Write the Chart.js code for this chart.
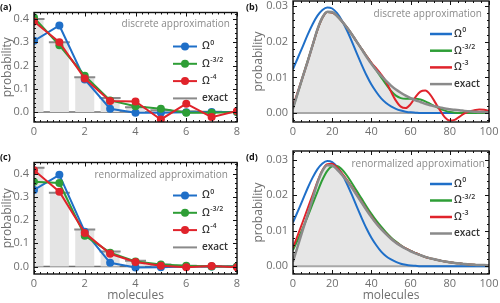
<!DOCTYPE html>
<html>
<head>
<meta charset="utf-8">
<script src="https://cdn.jsdelivr.net/npm/chart.js@4.4.1/dist/chart.umd.min.js"></script>
<style>
  html, body { margin: 0; padding: 0; background: #fff; }
  #wrap { position: relative; width: 500px; height: 303px; overflow: hidden; }
  canvas { position: absolute; }
</style>
</head>
<body>
<div id="wrap">
  <canvas id="chartA" width="250" height="150" style="left:0;top:0"></canvas>
  <canvas id="chartB" width="255" height="150" style="left:245px;top:0"></canvas>
  <canvas id="chartC" width="250" height="153" style="left:0;top:150px"></canvas>
  <canvas id="chartD" width="255" height="153" style="left:245px;top:150px"></canvas>
</div>
<script>
// discrete panels (a), (c)
const MOLECULES = [0, 1, 2, 3, 4, 5, 6, 7, 8];
const EXACT_A   = [0.400, 0.300, 0.150, 0.060, 0.020, 0.008, 0.003, 0.001, 0.000];
const OMEGA0_A  = [0.306, 0.372, 0.140, 0.014, -0.003, -0.003, -0.001, 0.000, 0.000];
const OMEGA32_A = [0.406, 0.287, 0.156, 0.050, 0.025, 0.014, -0.003, -0.003, 0.000];
const OMEGA4_A  = [0.389, 0.300, 0.144, 0.047, 0.045, -0.032, 0.036, -0.022, 0.004];
const EXACT_C   = [0.425, 0.318, 0.160, 0.065, 0.025, 0.009, 0.003, 0.001, 0.000];
const OMEGA0_C  = [0.330, 0.395, 0.150, 0.016, -0.004, -0.003, 0.000, 0.000, 0.000];
const OMEGA32_C = [0.365, 0.360, 0.133, 0.060, 0.022, 0.009, 0.003, 0.000, 0.000];
const OMEGA4_C  = [0.415, 0.322, 0.145, 0.055, 0.020, 0.004, -0.003, 0.002, -0.003];

// continuous panels (b), (d)
const XS = [0, 2.5, 5, 7.5, 10, 12.5, 15, 17.5, 20, 22.5, 25, 27.5, 30, 32.5, 35, 37.5, 40, 42.5, 45, 47.5,
            50, 52.5, 55, 57.5, 60, 62.5, 65, 67.5, 70, 72.5, 75, 77.5, 80, 82.5, 85, 87.5, 90, 92.5, 95, 97.5, 100];
const EXACT_CONT = [0.0013, 0.0058, 0.0102, 0.0145, 0.0190, 0.0235, 0.0268, 0.0284, 0.0283, 0.0272, 0.0257, 0.0240, 0.0221, 0.0200, 0.0179, 0.0158, 0.0138, 0.0120, 0.0104, 0.0090,
                    0.0077, 0.0066, 0.0057, 0.0049, 0.0042, 0.0036, 0.0031, 0.0026, 0.0022, 0.0019, 0.0016, 0.0013, 0.0011, 0.0009, 0.0008, 0.0006, 0.0005, 0.0004, 0.0003, 0.0003, 0.0002];
const OMEGA0_CONT = [0.0123, 0.0155, 0.0187, 0.0220, 0.0249, 0.0273, 0.0289, 0.0296, 0.0293, 0.0280, 0.0259, 0.0232, 0.0201, 0.0168, 0.0136, 0.0106, 0.0080, 0.0059, 0.0041, 0.0028,
                     0.0019, 0.0012, 0.0007, 0.0004, 0.0002, 0.0001, 0, 0, 0, 0, 0, 0, 0, 0, 0, 0, 0, 0, 0, 0, 0];
const OMEGA32_B = [0.0015, 0.0058, 0.0102, 0.0146, 0.0190, 0.0234, 0.0267, 0.0283, 0.0282, 0.0272, 0.0257, 0.0240, 0.0221, 0.0200, 0.0180, 0.0160, 0.0140, 0.0120, 0.0100, 0.0080,
                   0.0062, 0.0049, 0.0042, 0.0040, 0.0040, 0.0040, 0.0038, 0.0033, 0.0026, 0.0019, 0.0012, 0.0007, 0.0003, 0.0001, 0, 0, 0, 0, 0, 0, 0];
const OMEGA3_B  = [0.0020, 0.0060, 0.0102, 0.0145, 0.0190, 0.0234, 0.0267, 0.0283, 0.0282, 0.0272, 0.0257, 0.0240, 0.0221, 0.0200, 0.0180, 0.0160, 0.0141, 0.0125, 0.0108, 0.0088,
                   0.0060, 0.0035, 0.0018, 0.0014, 0.0025, 0.0045, 0.0060, 0.0063, 0.0052, 0.0030, 0.0008, -0.0012, -0.0021, -0.0019, -0.0010, -0.0001, 0.0005, 0.0008, 0.0010, 0.0009, 0.0006];
const OMEGA32_D = [0.0045, 0.0075, 0.0107, 0.0140, 0.0175, 0.0210, 0.0243, 0.0268, 0.0281, 0.0282, 0.0272, 0.0255, 0.0234, 0.0212, 0.0190, 0.0168, 0.0147, 0.0128, 0.0111, 0.0095,
                   0.0081, 0.0069, 0.0059, 0.0050, 0.0043, 0.0037, 0.0031, 0.0026, 0.0022, 0.0019, 0.0016, 0.0013, 0.0011, 0.0009, 0.0008, 0.0006, 0.0005, 0.0004, 0.0003, 0.0003, 0.0002];
const OMEGA3_D  = [0.0052, 0.0088, 0.0125, 0.0163, 0.0200, 0.0238, 0.0270, 0.0287, 0.0288, 0.0277, 0.0261, 0.0243, 0.0223, 0.0202, 0.0181, 0.0160, 0.0140, 0.0121, 0.0105, 0.0091,
                   0.0078, 0.0067, 0.0058, 0.0050, 0.0043, 0.0037, 0.0031, 0.0026, 0.0022, 0.0019, 0.0016, 0.0013, 0.0011, 0.0009, 0.0008, 0.0006, 0.0005, 0.0004, 0.0003, 0.0003, 0.0002];

// ticks and labels
const X_TICKS_DISC = [0, 2, 4, 6, 8];
const Y_TICKS_DISC = [0, 0.1, 0.2, 0.3, 0.4];
const X_TICKS_CONT = [0, 20, 40, 60, 80, 100];
const Y_TICKS_CONT = [0, 0.01, 0.02, 0.03];
const LABELS_DISC = ['Ω^0', 'Ω^-3/2', 'Ω^-4', 'exact'];
const LABELS_CONT = ['Ω^0', 'Ω^-3/2', 'Ω^-3', 'exact'];

const BLUE = '#1f6fc8', GREEN = '#2e9e36', RED = '#e0232b', GREY = '#8a8a8a';
const BAR = '#e4e4e4', FILL = '#e6e6e6';
const FONT = '"Open Sans", "DejaVu Sans", sans-serif';
const TICK_COL = '#6f6f6f';

const pts = (xs, ys) => xs.map((x, i) => ({ x, y: ys[i] }));

// frame, inward ticks, note text, legend and panel tag
const decoPlugin = {
    id: 'deco',
    beforeDatasetsDraw(chart, args, o) {
        const { ctx, chartArea: a, scales: { y } } = chart;
        const y0 = y.getPixelForValue(0);
        ctx.save();
        ctx.strokeStyle = o.zeroColor;
        ctx.lineWidth = o.zeroWidth;
        ctx.beginPath(); ctx.moveTo(a.left, y0); ctx.lineTo(a.right, y0); ctx.stroke();
        ctx.restore();
    },
    afterDraw(chart, args, o) {
        const { ctx, chartArea: a, scales: { x, y } } = chart;
        ctx.save();
        // ticks
        ctx.strokeStyle = '#111';
        ctx.lineWidth = 1;
        ctx.beginPath();
        for (let v = x.min; v <= x.max + 1e-9; v += o.xMinor) {
            const px = Math.round(x.getPixelForValue(v)) + 0.5;
            const len = o.xTicks.some(t => Math.abs(t - v) < 1e-6) ? 4 : 2;
            ctx.moveTo(px, a.bottom); ctx.lineTo(px, a.bottom - len);
            ctx.moveTo(px, a.top); ctx.lineTo(px, a.top + len);
        }
        for (let v = Math.ceil(y.min / o.yMinor) * o.yMinor; v <= y.max + 1e-9; v += o.yMinor) {
            const py = Math.round(y.getPixelForValue(v)) + 0.5;
            const len = o.yTicks.some(t => Math.abs(t - v) < 1e-6) ? 4 : 2;
            ctx.moveTo(a.left, py); ctx.lineTo(a.left + len, py);
            ctx.moveTo(a.right, py); ctx.lineTo(a.right - len, py);
        }
        ctx.stroke();
        // frame
        ctx.lineWidth = 1.4;
        ctx.strokeRect(a.left, a.top, a.right - a.left, a.bottom - a.top);

        // note
        ctx.fillStyle = '#8a8a8a';
        ctx.font = `10px ${FONT}`;
        ctx.textAlign = 'right';
        ctx.textBaseline = 'middle';
        ctx.fillText(o.note, a.right - o.noteR, a.top + o.noteY);

        // legend
        o.items.forEach((it, i) => {
            const yy = a.top + o.legTop + i * o.legGap;
            const x0 = a.right - o.legX0, x1 = a.right - o.legX1;
            ctx.strokeStyle = it.color;
            ctx.lineWidth = o.legLine;
            ctx.beginPath(); ctx.moveTo(x0, yy); ctx.lineTo(x1, yy); ctx.stroke();
            if (it.marker) {
                ctx.fillStyle = it.color;
                ctx.beginPath(); ctx.arc((x0 + x1) / 2, yy, 4, 0, Math.PI * 2); ctx.fill();
            }
            const [base, sup] = it.label.split('^');
            const tx = a.right - o.legTx;
            ctx.fillStyle = '#333';
            ctx.textAlign = 'left';
            ctx.font = `600 10px ${FONT}`;
            ctx.fillText(base, tx, yy);
            if (sup) {
                const w = ctx.measureText(base).width;
                ctx.font = `600 7px ${FONT}`;
                ctx.fillText(sup, tx + w + 0.5, yy - 4);
            }
        });

        // panel tag
        ctx.fillStyle = '#111';
        ctx.font = `bold 9px ${FONT}`;
        ctx.textAlign = 'left';
        ctx.fillText(o.tag, o.tagX, 7);
        ctx.restore();
    }
};

function scales(o) {
    return {
        x: {
            type: 'linear', min: o.xmin, max: o.xmax, offset: false,
            afterBuildTicks: s => { s.ticks = o.xticks.map(v => ({ value: v })); },
            afterFit: s => { s.height = o.xh; s.paddingLeft = 0; s.paddingRight = 0; },
            ticks: { color: TICK_COL, font: { family: FONT, size: 11 }, padding: 3, maxRotation: 0, autoSkip: false, callback: v => String(v) },
            grid: { display: false, drawTicks: false },
            border: { display: false },
            title: { display: !!o.xtitle, text: o.xtitle || '', color: TICK_COL, font: { family: FONT, size: 12 }, padding: 0 }
        },
        y: {
            type: 'linear', min: o.ymin, max: o.ymax,
            afterBuildTicks: s => { s.ticks = o.yticks.map(v => ({ value: v })); },
            afterFit: s => { s.width = o.yw; s.paddingTop = 0; s.paddingBottom = 0; },
            ticks: { color: TICK_COL, font: { family: FONT, size: 11 }, padding: 5, callback: v => v.toFixed(o.ydec) },
            grid: { display: false, drawTicks: false },
            border: { display: false },
            title: { display: true, text: 'probability', color: TICK_COL, font: { family: FONT, size: 12 }, padding: { top: o.ytpad, bottom: 0 } }
        }
    };
}

function discreteChart(id, exact, o0, o32, o4, deco, sc) {
    const marks = c => ({ borderColor: c, backgroundColor: c, borderWidth: 2, pointRadius: 4, pointBorderWidth: 0, pointBackgroundColor: c, tension: 0 });
    return new Chart(document.getElementById(id), {
        type: 'line',
        data: {
            datasets: [
                { type: 'line', label: LABELS_DISC[2], data: pts(MOLECULES, o4), order: 1, ...marks(RED) },
                { type: 'line', label: LABELS_DISC[1], data: pts(MOLECULES, o32), order: 2, ...marks(GREEN) },
                { type: 'line', label: LABELS_DISC[0], data: pts(MOLECULES, o0), order: 3, ...marks(BLUE) },
                { type: 'line', label: LABELS_DISC[3], data: pts(MOLECULES, exact), order: 4, showLine: false,
                  pointStyle: 'line', pointRadius: 10.5, pointBorderColor: GREY, pointBorderWidth: 2 },
                { type: 'bar', label: 'bars', data: pts(MOLECULES, exact), order: 5, backgroundColor: BAR,
                  barPercentage: 0.75, categoryPercentage: 1 }
            ]
        },
        options: {
            responsive: false, animation: false,
            layout: { padding: { top: 1, right: 13, left: 0, bottom: 0 } },
            plugins: {
                legend: { display: false }, tooltip: { enabled: false },
                deco: Object.assign({
                    xTicks: X_TICKS_DISC, yTicks: Y_TICKS_DISC, xMinor: 0.25, yMinor: 0.02,
                    zeroColor: '#6e6e6e', zeroWidth: 1.5,
                    items: [
                        { label: LABELS_DISC[0], color: BLUE, marker: true },
                        { label: LABELS_DISC[1], color: GREEN, marker: true },
                        { label: LABELS_DISC[2], color: RED, marker: true },
                        { label: LABELS_DISC[3], color: GREY, marker: false }
                    ],
                    legLine: 2, legTop: 34, legGap: 17.3, legX0: 64, legX1: 40, legTx: 35
                }, deco)
            },
            scales: scales(Object.assign({ xmin: 0, xmax: 8, xticks: X_TICKS_DISC, yticks: Y_TICKS_DISC, ydec: 1, yw: 34, ytpad: 0 }, sc))
        },
        plugins: [decoPlugin]
    });
}

function contChart(id, o32, o3, deco, sc) {
    const curve = c => ({ borderColor: c, backgroundColor: c, borderWidth: 2, pointRadius: 0, cubicInterpolationMode: 'monotone' });
    return new Chart(document.getElementById(id), {
        type: 'line',
        data: {
            datasets: [
                { label: LABELS_CONT[3], data: pts(XS, EXACT_CONT), order: 1, borderColor: GREY, borderWidth: 2.5,
                  pointRadius: 0, cubicInterpolationMode: 'monotone', fill: 'origin', backgroundColor: FILL },
                { label: LABELS_CONT[2], data: pts(XS, o3), order: 2, ...curve(RED) },
                { label: LABELS_CONT[1], data: pts(XS, o32), order: 3, ...curve(GREEN) },
                { label: LABELS_CONT[0], data: pts(XS, OMEGA0_CONT), order: 4, ...curve(BLUE) }
            ]
        },
        options: {
            responsive: false, animation: false,
            layout: { padding: { top: 1, right: 11, left: 0, bottom: 0 } },
            plugins: {
                legend: { display: false }, tooltip: { enabled: false },
                filler: { drawTime: 'beforeDatasetsDraw' },
                deco: Object.assign({
                    xTicks: X_TICKS_CONT, yTicks: Y_TICKS_CONT, xMinor: 4, yMinor: 0.002,
                    zeroColor: '#a8a8a8', zeroWidth: 2,
                    items: [
                        { label: LABELS_CONT[0], color: BLUE },
                        { label: LABELS_CONT[1], color: GREEN },
                        { label: LABELS_CONT[2], color: RED },
                        { label: LABELS_CONT[3], color: GREY }
                    ],
                    legLine: 2.5, legTop: 33, legGap: 16.7, legX0: 59, legX1: 37, legTx: 35
                }, deco)
            },
            scales: scales(Object.assign({ xmin: 0, xmax: 100, xticks: X_TICKS_CONT, yticks: Y_TICKS_CONT, ydec: 2, yw: 48, ytpad: 6 }, sc))
        },
        plugins: [decoPlugin]
    });
}

discreteChart('chartA', EXACT_A, OMEGA0_A, OMEGA32_A, OMEGA4_A,
    { tag: '(a)', tagX: 0, note: 'discrete approximation', noteR: 7, noteY: 12 },
    { ymin: -0.043, ymax: 0.428, xh: 28 });
discreteChart('chartC', EXACT_C, OMEGA0_C, OMEGA32_C, OMEGA4_C,
    { tag: '(c)', tagX: 0, note: 'renormalized approximation', noteR: 9, noteY: 13, legTop: 33 },
    { ymin: -0.032, ymax: 0.448, xh: 29, xtitle: 'molecules' });
contChart('chartB', OMEGA32_B, OMEGA3_B,
    { tag: '(b)', tagX: 1, note: 'discrete approximation', noteR: 7, noteY: 13 },
    { ymin: -0.0025, ymax: 0.0314, xh: 28 });
contChart('chartD', OMEGA32_D, OMEGA3_D,
    { tag: '(d)', tagX: 1, note: 'renormalized approximation', noteR: 4, noteY: 13, legGap: 16.5 },
    { ymin: -0.0022, ymax: 0.0324, xh: 29, xtitle: 'molecules' });
</script>
</body>
</html>
